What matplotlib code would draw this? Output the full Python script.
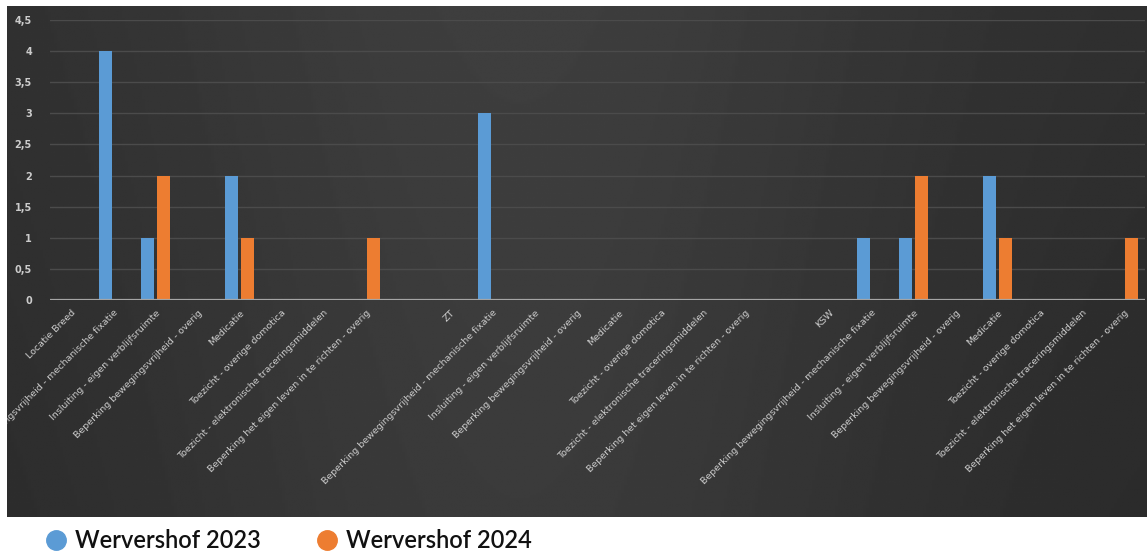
import matplotlib
matplotlib.use("Agg")
import matplotlib.pyplot as plt
from matplotlib.lines import Line2D
import numpy as np

items = [
    "Beperking bewegingsvrijheid - mechanische fixatie",
    "Insluiting - eigen verblijfsruimte",
    "Beperking bewegingsvrijheid - overig",
    "Medicatie",
    "Toezicht - overige domotica",
    "Toezicht - elektronische traceringsmiddelen",
    "Beperking het eigen leven in te richten - overig",
]
categories = (["Locatie Breed"] + items + [""] +
              ["ZT"] + items + [""] +
              ["KSW"] + items)

values_2023 = [0, 4, 1, 0, 2, 0, 0, 0, 0,
               0, 3, 0, 0, 0, 0, 0, 0, 0,
               0, 1, 1, 0, 2, 0, 0, 0]
values_2024 = [0, 0, 2, 0, 1, 0, 0, 1, 0,
               0, 0, 0, 0, 0, 0, 0, 0, 0,
               0, 0, 2, 0, 1, 0, 0, 1]

series_names = ["Wervershof 2023", "Wervershof 2024"]
blue = "#5B9BD5"
orange = "#ED7D31"
text_col = "#cccccc"

fig = plt.figure(figsize=(11.47, 5.53), dpi=100, facecolor="white")

# dark gradient panel behind the chart
bg = fig.add_axes([7 / 1147, 1 - 517 / 553, 1140 / 1147, 511 / 553])
xs = np.linspace(0, 1, 400)
ys = np.linspace(0, 1, 200)
X, Y = np.meshgrid(xs, ys)
shade = 0.165 + 0.065 * np.exp(-((X - 0.45) ** 2) / 0.12) + 0.015 * Y
bg.imshow(shade, cmap="gray", vmin=0, vmax=1, aspect="auto",
          extent=[0, 1, 0, 1], origin="lower")
bg.axis("off")

ax = fig.add_axes([50 / 1147, 1 - 300 / 553, 1095 / 1147, 280 / 553])
ax.patch.set_alpha(0)

x = np.arange(len(categories))
w = 0.31
ax.bar(x - 0.19, values_2023, width=w, color=blue, zorder=3)
ax.bar(x + 0.19, values_2024, width=w, color=orange, zorder=3)

ax.set_xlim(-0.5, len(categories) - 0.5)
ax.set_ylim(0, 4.5)
yt = np.arange(0, 4.51, 0.5)
ax.set_yticks(yt)
ax.set_yticklabels([f"{v:g}".replace(".", ",") for v in yt],
                   color=text_col, fontsize=7, fontweight="semibold")
ax.set_xticks(x)
ax.set_xticklabels(categories, rotation=45, ha="right",
                   rotation_mode="anchor", color=text_col, fontsize=6.8)
ax.tick_params(axis="both", length=0)
ax.tick_params(axis="y", pad=13)
ax.tick_params(axis="x", pad=6)
for lbl in ax.get_xticklabels():
    lbl.set_clip_box(bg.bbox)
    lbl.set_clip_on(True)
for g in yt[1:]:
    ax.axhline(g, color="#4b4b4b", linewidth=1.0, zorder=1)
ax.axhline(0, color="#a5a5a5", linewidth=1.6, zorder=4)
for s in ax.spines.values():
    s.set_visible(False)

handles = [Line2D([], [], marker="o", linestyle="", markersize=14,
                  markerfacecolor=c, markeredgecolor=c) for c in (blue, orange)]
leg = fig.legend(handles, series_names, loc="lower left",
                 bbox_to_anchor=(0.020, -0.037), ncol=2, frameon=False,
                 prop={"family": "Lato", "weight": "semibold", "size": 17},
                 handletextpad=0.3, columnspacing=2.3, handlelength=1.0)
for t in leg.get_texts():
    t.set_color("#111111")

fig.savefig("out.png", dpi=100, facecolor="white")
